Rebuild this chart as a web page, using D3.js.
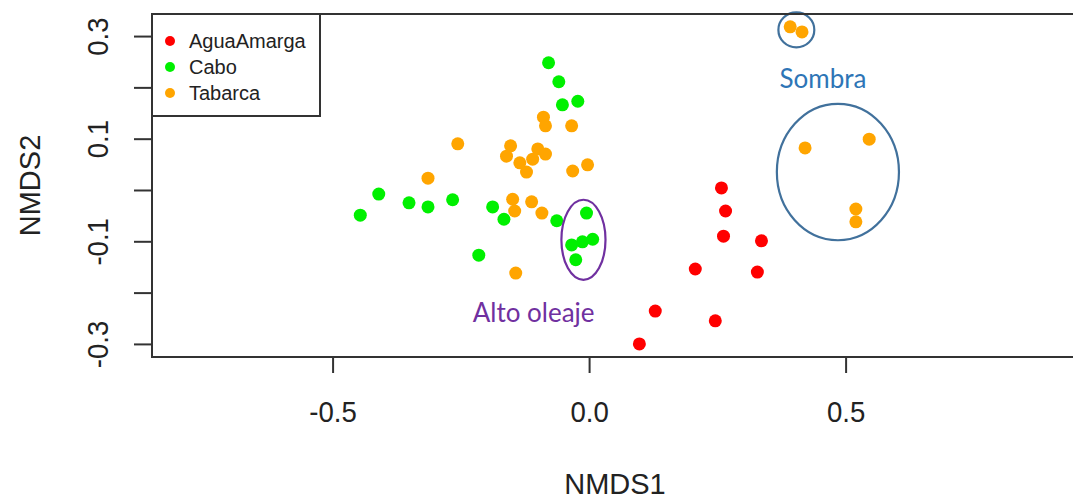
<!DOCTYPE html>
<html>
<head>
<meta charset="utf-8">
<script src="https://cdn.jsdelivr.net/npm/d3@7/dist/d3.min.js"></script>
<style>
  html, body { margin: 0; padding: 0; background: #fff; }
  svg { display: block; }
</style>
</head>
<body>
<svg id="chart" width="1073" height="499"></svg>
<script>
// ---- data ----
const groups = ["AguaAmarga", "Cabo", "Tabarca"];
const groupColors = ["#ff0000", "#00f000", "#ffa500"];

const aguaAmargaX = [0.258, 0.266, 0.262, 0.336, 0.207, 0.328, 0.129, 0.246, 0.098];
const aguaAmargaY = [0.004, -0.041, -0.090, -0.099, -0.154, -0.160, -0.236, -0.255, -0.300];

const caboX = [-0.446, -0.410, -0.351, -0.314, -0.266, -0.188, -0.166, -0.215, -0.063,
               -0.079, -0.059, -0.052, -0.022, -0.005, -0.034, -0.013, 0.007, -0.026];
const caboY = [-0.049, -0.008, -0.025, -0.033, -0.019, -0.033, -0.057, -0.127, -0.060,
               0.248, 0.211, 0.166, 0.173, -0.045, -0.107, -0.101, -0.096, -0.136];

const tabarcaX = [-0.089, -0.085, -0.034, -0.256, -0.153, -0.161, -0.100, -0.085, -0.135,
                  -0.110, -0.122, -0.032, -0.003, -0.314, -0.149, -0.145, -0.112, -0.092,
                  -0.143, 0.392, 0.415, 0.421, 0.546, 0.520, 0.520];
const tabarcaY = [0.142, 0.125, 0.125, 0.090, 0.086, 0.066, 0.080, 0.070, 0.053,
                  0.060, 0.035, 0.037, 0.049, 0.023, -0.018, -0.041, -0.023, -0.045,
                  -0.162, 0.318, 0.308, 0.082, 0.099, -0.037, -0.062];

const xTicks = [-0.5, 0.0, 0.5];
const xTickLabels = ["-0.5", "0.0", "0.5"];
const yTicks = [-0.3, -0.2, -0.1, 0.0, 0.1, 0.2, 0.3];
const yTickLabels = ["-0.3", "", "-0.1", "", "0.1", "", "0.3"];

// annotations (data coordinates)
const ellipseCx = [-0.011, 0.404, 0.485];
const ellipseCy = [-0.097, 0.312, 0.035];
const ellipseRx = [0.043, 0.035, 0.119];
const ellipseRy = [0.078, 0.034, 0.133];
const ellipseColors = ["#7030a0", "#41719c", "#41719c"];
const noteText = ["Alto oleaje", "Sombra"];
const noteX = [-0.108, 0.456];
const noteY = [-0.257, 0.199];
const noteColors = ["#7030a0", "#2e75b6"];

// ---- drawing ----
const svg = d3.select("#chart");
const pLeft = 152, pRight = 1078, pTop = 14, pBottom = 357;
const x = d3.scaleLinear().domain([-0.852, 0.953]).range([pLeft, pRight]);
const y = d3.scaleLinear().domain([-0.3255, 0.343]).range([pBottom, pTop]);
const color = d3.scaleOrdinal().domain(groups).range(groupColors);

const axisColor = "#333";
const font = "'Liberation Sans', Arial, sans-serif";

// points
const series = [
  {g: "AguaAmarga", xs: aguaAmargaX, ys: aguaAmargaY},
  {g: "Cabo", xs: caboX, ys: caboY},
  {g: "Tabarca", xs: tabarcaX, ys: tabarcaY}
];
const pts = [];
series.forEach(s => s.xs.forEach((v, i) => pts.push({g: s.g, x: v, y: s.ys[i]})));

svg.append("g").selectAll("circle").data(pts).join("circle")
  .attr("cx", d => x(d.x)).attr("cy", d => y(d.y)).attr("r", 6.5)
  .attr("fill", d => color(d.g));

// ellipses
svg.append("g").selectAll("ellipse").data(ellipseCx.map((c, i) => i)).join("ellipse")
  .attr("cx", i => x(ellipseCx[i]))
  .attr("cy", i => y(ellipseCy[i]))
  .attr("rx", i => x(ellipseCx[i] + ellipseRx[i]) - x(ellipseCx[i]))
  .attr("ry", i => y(ellipseCy[i]) - y(ellipseCy[i] + ellipseRy[i]))
  .attr("fill", "none")
  .attr("stroke", i => ellipseColors[i])
  .attr("stroke-width", 2.2);

// notes
svg.append("g").selectAll("text").data(noteText).join("text")
  .attr("x", (d, i) => x(noteX[i])).attr("y", (d, i) => y(noteY[i]))
  .attr("text-anchor", "middle")
  .attr("font-family", "Lato, 'Open Sans', sans-serif")
  .attr("font-size", 26)
  .attr("fill", (d, i) => noteColors[i])
  .text(d => d);

// box
svg.append("rect").attr("x", pLeft).attr("y", pTop)
  .attr("width", pRight - pLeft).attr("height", pBottom - pTop)
  .attr("fill", "none").attr("stroke", axisColor).attr("stroke-width", 2);

// x axis
const xAxis = d3.axisBottom(x).tickValues(xTicks).tickSize(16)
  .tickFormat((d, i) => xTickLabels[i]);
const gx = svg.append("g").attr("transform", `translate(0,${pBottom})`).call(xAxis);
gx.select(".domain").remove();
gx.selectAll(".tick line").attr("stroke", axisColor).attr("stroke-width", 2);
gx.selectAll(".tick text").attr("font-family", font).attr("font-size", 30)
  .attr("fill", "#222").attr("dy", null).attr("y", 65)
  .attr("transform", "scale(0.92,1)");

// y axis
const yAxis = d3.axisLeft(y).tickValues(yTicks).tickSize(18)
  .tickFormat((d, i) => yTickLabels[i]);
const gy = svg.append("g").attr("transform", `translate(${pLeft},0)`).call(yAxis);
gy.select(".domain").remove();
gy.selectAll(".tick line").attr("stroke", axisColor).attr("stroke-width", 2);
gy.selectAll(".tick text").attr("font-family", font).attr("font-size", 30)
  .attr("fill", "#222").attr("dy", null).attr("x", null)
  .attr("text-anchor", "middle")
  .attr("transform", "translate(-44,0) rotate(-90) scale(0.92,1)");

// axis titles
svg.append("text").attr("x", (pLeft + pRight) / 2).attr("y", 494)
  .attr("text-anchor", "middle").attr("font-family", font).attr("font-size", 29)
  .attr("fill", "#222").text("NMDS1");
svg.append("text").attr("transform", `translate(40,${(pTop + pBottom) / 2}) rotate(-90)`)
  .attr("text-anchor", "middle").attr("font-family", font).attr("font-size", 29)
  .attr("fill", "#222").text("NMDS2");

// legend
const lg = svg.append("g");
lg.append("rect").attr("x", pLeft).attr("y", pTop).attr("width", 168).attr("height", 102)
  .attr("fill", "#fff").attr("stroke", axisColor).attr("stroke-width", 2);
groups.forEach((g, i) => {
  lg.append("circle").attr("cx", 170).attr("cy", 41 + i * 26).attr("r", 5)
    .attr("fill", color(g));
  lg.append("text").attr("x", 189).attr("y", 48 + i * 26)
    .attr("font-family", font).attr("font-size", 20).attr("fill", "#222").text(g);
});
</script>
</body>
</html>
